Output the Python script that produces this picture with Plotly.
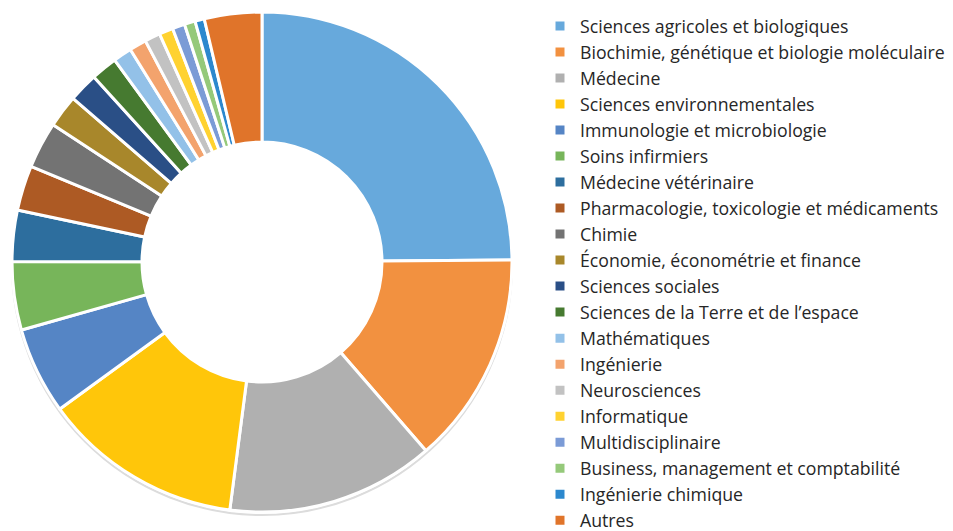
import plotly.graph_objects as go

categories = [
    "Sciences agricoles et biologiques",
    "Biochimie, génétique et biologie moléculaire",
    "Médecine",
    "Sciences environnementales",
    "Immunologie et microbiologie",
    "Soins infirmiers",
    "Médecine vétérinaire",
    "Pharmacologie, toxicologie et médicaments",
    "Chimie",
    "Économie, économétrie et finance",
    "Sciences sociales",
    "Sciences de la Terre et de l’espace",
    "Mathématiques",
    "Ingénierie",
    "Neurosciences",
    "Informatique",
    "Multidisciplinaire",
    "Business, management et comptabilité",
    "Ingénierie chimique",
    "Autres",
]
values = [24.8, 13.7, 13.4, 12.9, 5.6, 4.4, 3.3, 2.9, 3.0, 2.1,
          1.9, 1.7, 1.2, 1.1, 1.0, 0.9, 0.8, 0.7, 0.6, 3.7]
colors = ["#67A9DC", "#F29140", "#B0B0B0", "#FFC60A", "#5585C5", "#77B55A",
          "#2D6E9E", "#AD5A24", "#737373", "#A8872B", "#2A4F86", "#467A30",
          "#93C1E8", "#F3A36D", "#C2C2C2", "#FFD230", "#7B9BD6", "#95C97A",
          "#2C88CE", "#E0742A"]

W, H = 953, 531
OFF = 8  # page body margin offset

cx, cy, R = 262 - OFF, 262 - OFF, 250

fig = go.Figure(go.Pie(
    labels=categories,
    values=values,
    sort=False,
    direction="clockwise",
    rotation=0,
    hole=0.48,
    marker=dict(colors=colors, line=dict(color="white", width=3)),
    textinfo="none",
    domain=dict(x=[(cx - R) / W, (cx + R) / W],
                y=[(H - cy - R) / H, (H - cy + R) / H]),
))

# faint drop shadow at the outer edge of the donut
fig.add_shape(type="circle", xref="paper", yref="paper", layer="below",
              x0=(cx - R) / W, x1=(cx + R) / W,
              y0=(H - cy - R - 3) / H, y1=(H - cy + R - 3) / H,
              fillcolor="rgba(0,0,0,0)", line=dict(width=2, color="#DCDCDC"))

fig.update_layout(
    width=W, height=H,
    margin=dict(l=0, r=0, t=0, b=0),
    paper_bgcolor="white",
    plot_bgcolor="white",
    font=dict(family="Open Sans, sans-serif", size=17.7, color="#262626"),
    legend=dict(
        x=(540 - OFF) / W, y=1, xanchor="left", yanchor="top",
        itemclick=False, itemdoubleclick=False,
        font=dict(family="Open Sans, sans-serif", size=17.7, color="#262626"),
        itemwidth=30,
        traceorder="normal",
        maxheight=1000,
    ),
    showlegend=True,
)

fig.write_html("out.html")
